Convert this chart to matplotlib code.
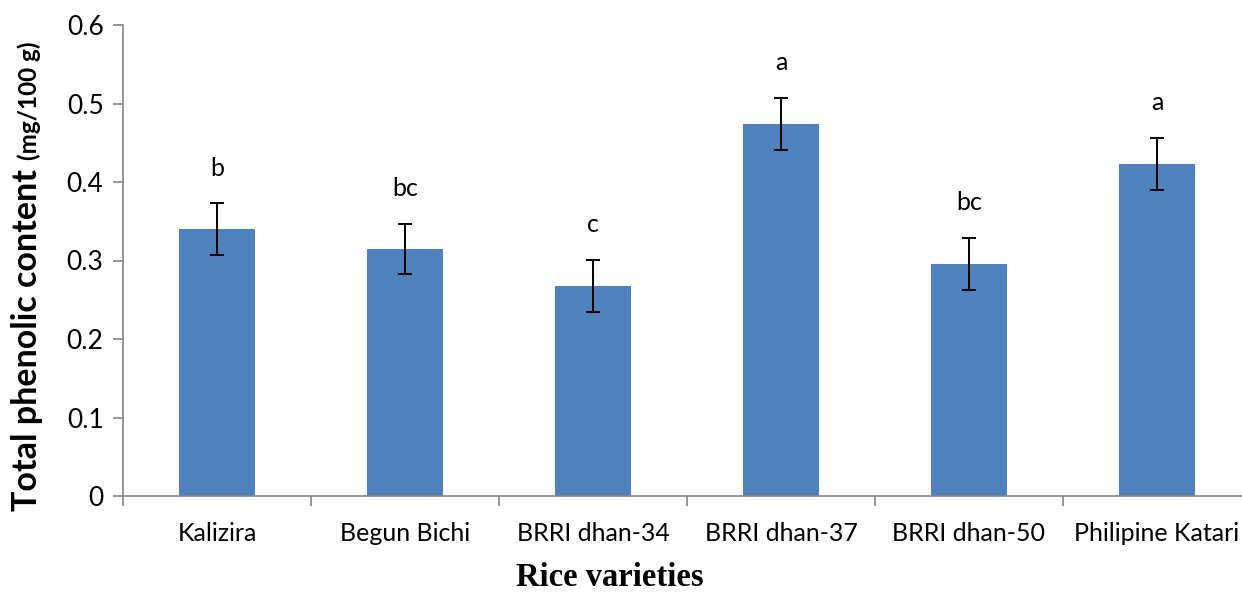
import matplotlib.pyplot as plt
import numpy as np

# data
varieties = ["Kalizira", "Begun Bichi", "BRRI dhan-34", "BRRI dhan-37",
             "BRRI dhan-50", "Philipine Katari"]
phenolic = [0.340, 0.315, 0.268, 0.474, 0.296, 0.423]
errors = [0.033, 0.032, 0.033, 0.033, 0.033, 0.033]
letters = ["b", "bc", "c", "a", "bc", "a"]

W, H = 1242, 593
fig = plt.figure(figsize=(W / 100, H / 100), dpi=100)
# axis runs past the right edge, like the original
ax = fig.add_axes([123 / W, 1 - 496 / H, (1251 - 123) / W, (496 - 25) / H])

x = np.arange(len(varieties))
ax.bar(x, phenolic, width=0.4, color="#4F81BD", zorder=2)
ax.errorbar(x, phenolic, yerr=errors, fmt="none", ecolor="black",
            elinewidth=1.4, capsize=5, capthick=1.4, zorder=3)

for xi, v, e, lab in zip(x, phenolic, errors, letters):
    ax.text(xi, v + e + 0.03, lab, ha="center", va="bottom",
            fontsize=18, family="Lato")

ax.set_xlim(-0.5, len(varieties) - 0.5)
ax.set_ylim(0, 0.6)
ax.set_yticks([0, 0.1, 0.2, 0.3, 0.4, 0.5, 0.6])
ax.set_yticklabels(["0", "0.1", "0.2", "0.3", "0.4", "0.5", "0.6"])
ax.set_xticks(x)
ax.set_xticklabels(varieties)
ax.set_xticks(np.arange(len(varieties) + 1) - 0.5, minor=True)
ax.tick_params(axis="x", which="major", length=0, pad=19, labelsize=18)
ax.tick_params(axis="x", which="minor", length=7, color="#868686", width=1.2)
ax.tick_params(axis="y", length=7, color="#868686", width=1.2, labelsize=19,
               pad=7)
for lbl in ax.get_xticklabels() + ax.get_yticklabels():
    lbl.set_family("Lato")

for s in ["top", "right"]:
    ax.spines[s].set_visible(False)
for s in ["left", "bottom"]:
    ax.spines[s].set_color("#868686")
    ax.spines[s].set_linewidth(1.2)

# y label: big bold part plus smaller unit part
fig.canvas.draw()
r = fig.canvas.get_renderer()
t1 = fig.text(27 / W, 1 - 511 / H, "Total phenolic content ", rotation=90,
              ha="center", va="bottom", fontsize=24.5, fontweight="bold",
              family="Lato")
bb = t1.get_window_extent(r)
fig.text(29 / W, (bb.y1 + 1) / H, "(mg/100 g)", rotation=90,
         ha="center", va="bottom", fontsize=17.5, fontweight="bold",
         family="Lato")

fig.text(610 / W, 1 - 578 / H, "Rice varieties", ha="center", va="center",
         fontsize=23.5, fontweight="bold", family="Liberation Serif")

plt.savefig("out.png", dpi=100)
